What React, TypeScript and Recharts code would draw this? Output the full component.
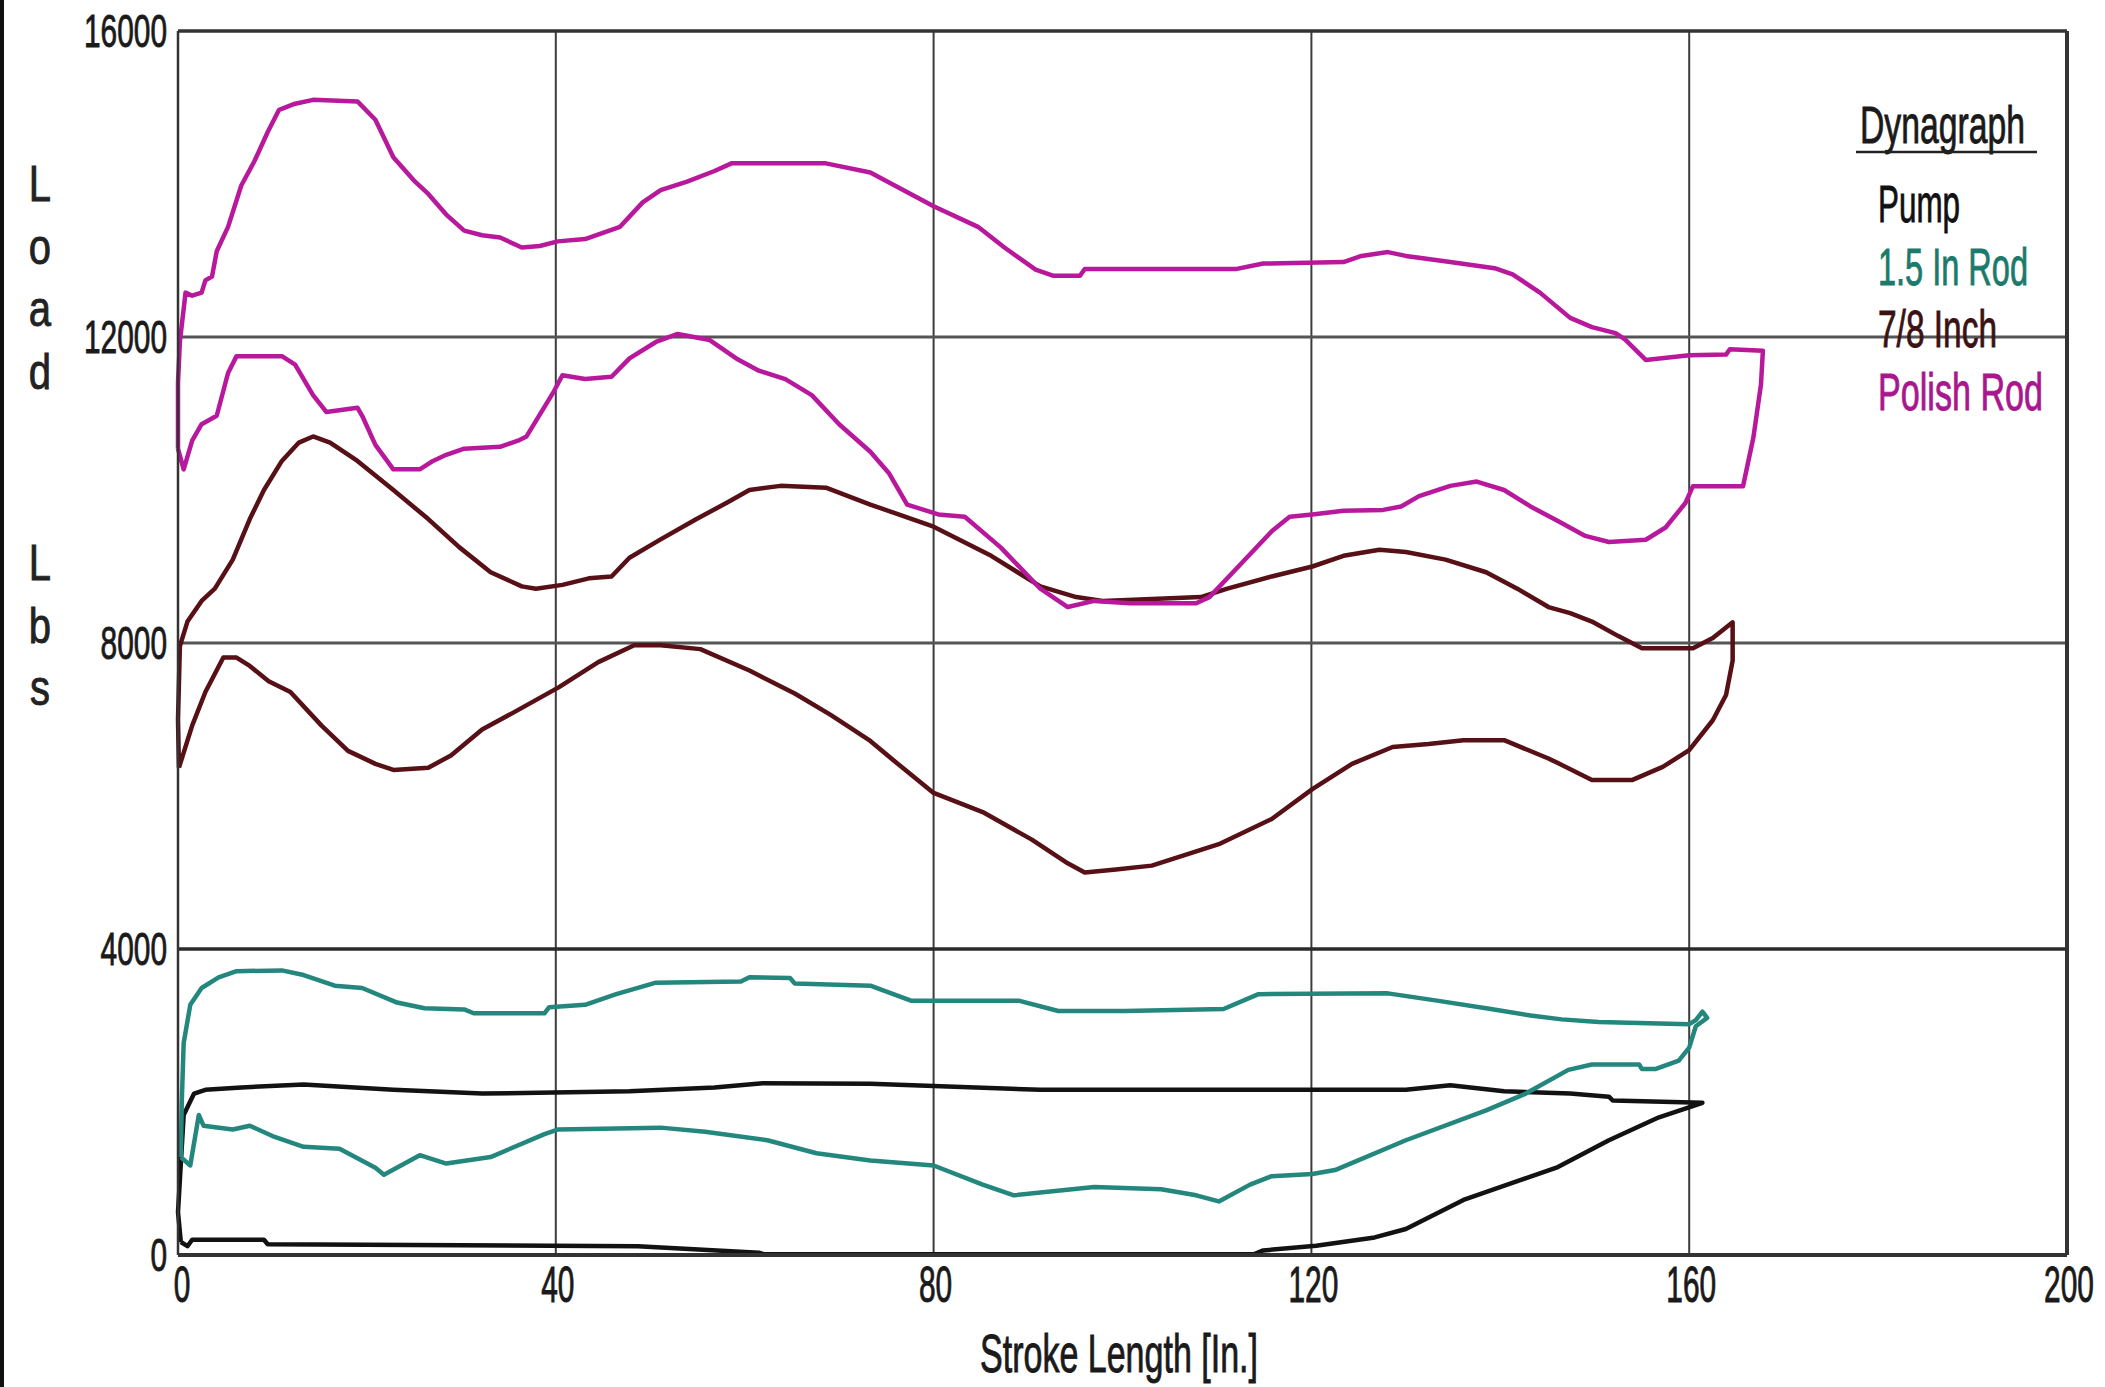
import React from 'react';
import { LineChart, Line, XAxis, YAxis, CartesianGrid, ReferenceLine, Legend } from 'recharts';

// ---------- axis ticks ----------
const strokeTicks = [0, 40, 80, 120, 160, 200];
const loadTicks = [0, 4000, 8000, 12000, 16000];
const xTitle = 'Stroke Length [In.]';
const yTitle = 'Load Lbs';
const legendTitle = 'Dynagraph';

// ---------- Pump (black) ----------
const pumpStroke = [0.3, 0, 0.6, 1.7, 2.9, 6.7, 13.3, 22.8, 32.2, 47.8, 56.8, 61.9, 73.3, 91.3, 130, 134.7, 140.4, 147.4, 151.5, 151.9, 161.4,
  156.8, 151.5, 146.1, 136.1, 130, 126.7, 120.5, 114.9, 113.9, 62, 61.5, 48.7, 9.5, 9.1, 1.5, 1, 0.3];
const pumpLoad = [170, 560, 1830, 2110, 2160, 2190, 2230, 2160, 2110, 2140, 2190, 2245, 2240, 2160, 2160, 2220, 2140, 2110, 2070, 2020, 1990,
  1800, 1500, 1150, 720, 340, 230, 120, 60, 10, 10, 30, 115, 140, 200, 200, 115, 170];

// ---------- 1.5 In Rod (teal) ----------
const rod15Stroke = [0.3, 0.4, 0.6, 1.3, 2.5, 4.3, 6.2, 11, 13.3, 16.6, 19.5, 23.2, 26.1, 30.3, 31.3, 38.8, 39.3, 43.1, 46.4, 50.6, 59.6, 60.5, 64.8, 65.3, 73.3, 77.6, 89, 93.2, 100.3, 110.7, 114.4, 128.1, 133.3, 139, 143.2, 146.5, 150.4, 160, 160.7, 161.4, 161.9,
  160.7, 160, 158.9, 156.4, 155, 154.7, 149.7, 147.2, 142.7, 138.5, 130, 122.5, 120.1, 115.8, 113.5, 110.2, 107.8, 104.1, 97, 88.5, 85.2, 80, 73.3, 67.6, 62.4, 55.8, 51.1, 40.2, 38.8, 33.1, 28.4, 25.6, 21.8, 20.9, 17.1, 13.3, 10, 7.6, 5.8, 2.7, 2.2, 1.3, 0.3];
const rod15Load = [1280, 2000, 2770, 3270, 3490, 3630, 3710, 3720, 3660, 3520, 3490, 3300, 3225, 3210, 3160, 3160, 3240, 3270, 3410, 3560, 3575, 3630, 3620, 3550, 3520, 3325, 3325, 3190, 3190, 3215, 3410, 3420, 3325, 3215, 3130, 3080, 3045, 3017, 3070, 3180, 3100,
  2990, 2710, 2540, 2430, 2430, 2490, 2490, 2420, 2110, 1890, 1500, 1110, 1060, 1030, 920, 700, 780, 860, 890, 780, 920, 1170, 1235, 1330, 1500, 1610, 1665, 1640, 1580, 1280, 1195, 1305, 1050, 1140, 1390, 1415, 1555, 1690, 1640, 1690, 1830, 1170, 1280];

// ---------- 7/8 Inch (dark maroon) ----------
const rod78Stroke = [0.1, 0, 0.2, 1, 2.5, 3.9, 5.8, 7.6, 9.1, 11, 12.8, 14.3, 16.1, 19, 22.8, 26.5, 29.8, 33.1, 36.4, 37.9, 40.7, 43.5, 45.9, 47.8, 51.1, 54.9, 58.2, 60.5, 63.8, 68.6, 73.3, 80, 86.1, 91.3, 95.1, 97.9, 108.3, 111.1, 115.8, 120.1, 123.4, 127.2, 130, 134.2, 138.5, 141.8, 145.1, 147.4, 149.7, 152.5, 155, 160.4, 162.5, 164.6,
  164.6, 163.9, 162.5, 160, 157.2, 154, 149.7, 146.1, 145.1, 140.4, 136.1, 132.4, 128.6, 124.3, 120.1, 115.8, 110.2, 103.1, 99.3, 96, 94.2, 90.4, 85.2, 80, 76.2, 73.3, 69.1, 65.3, 60.5, 55.3, 51.1, 48.3, 44.5, 40.3, 35.5, 32.2, 28.9, 26.5, 22.8, 20.9, 18, 15.2, 11.9, 9.6, 7.6, 6.2, 4.8, 2.9, 1.5, 0.1];
const rod78Load = [6370, 7000, 7960, 8280, 8550, 8710, 9090, 9620, 10000, 10380, 10620, 10700, 10620, 10380, 10000, 9620, 9250, 8925, 8740, 8710, 8760, 8845, 8870, 9115, 9355, 9620, 9840, 10000, 10054, 10030, 9810, 9520, 9140, 8740, 8600, 8550, 8600, 8710, 8870, 9000, 9140, 9220, 9190, 9090, 8925, 8710, 8470, 8390, 8280, 8090, 7930, 7930, 8064, 8270,
  7770, 7320, 6990, 6600, 6380, 6210, 6210, 6430, 6490, 6730, 6730, 6680, 6640, 6420, 6090, 5700, 5370, 5090, 5040, 5000, 5120, 5430, 5790, 6040, 6420, 6720, 7060, 7340, 7640, 7920, 7970, 7970, 7750, 7420, 7090, 6870, 6530, 6370, 6340, 6420, 6590, 6920, 7360, 7500, 7700, 7810, 7810, 7360, 6920, 6370];

// ---------- Polish Rod (magenta) ----------
const polishStroke = [0, 0, 0.2, 0.8, 1.5, 2.5, 2.9, 3.6, 4.1, 5.3, 6.7, 8.1, 9.5, 10.7, 12.4, 14.3, 19, 20.9, 22.8, 25.1, 26.5, 28.4, 30.3, 32.2, 34.1, 36.4, 38.3, 40.2, 43.1, 46.8, 49.2, 51.1, 53.9, 56.8, 58.6, 68.6, 73.3, 80, 84.7, 87.5, 90.8, 92.7, 95.5, 96, 112.1, 114.9, 123.4, 125.3, 128.1, 130, 134.7, 139.4, 141.3, 144.2, 147.4, 149.7, 152.2, 153.2, 155.4, 160, 163.9, 164.3, 167.8,
  167.6, 166.8, 165.7, 160.4, 159.6, 157.5, 155.4, 151.5, 149, 146, 143.2, 140.4, 137.5, 134.7, 131.4, 129.5, 127.6, 123.4, 120.1, 117.7, 115.8, 112.5, 109.2, 107.8, 100.8, 97, 94.2, 91.3, 87.1, 83.3, 80.5, 77.2, 75.3, 73.3, 70, 67.1, 64.3, 61.5, 59.1, 56.3, 52.9, 50.6, 47.8, 45.9, 43.1, 40.7, 39.8, 36.9, 36, 34.1, 30.3, 28.4, 27, 25.6, 22.8, 20.9, 19.5, 19, 15.7, 14.3, 12.4, 11, 6.2, 5.3, 4.1, 2.5, 1.5, 0.6, 0];
const polishLoad = [10540, 11400, 11940, 12580, 12540, 12580, 12740, 12790, 13120, 13440, 13980, 14300, 14680, 14970, 15050, 15100, 15080, 14840, 14350, 14030, 13870, 13600, 13390, 13330, 13300, 13170, 13190, 13250, 13280, 13440, 13760, 13920, 14030, 14170, 14270, 14270, 14150, 13710, 13440, 13170, 12880, 12800, 12800, 12890, 12890, 12960, 12980, 13060, 13110, 13060, 12980, 12900, 12820, 12580, 12250, 12130, 12050, 11970, 11700, 11760, 11770, 11840, 11820,
  11380, 10690, 10050, 10050, 9830, 9510, 9350, 9320, 9400, 9600, 9785, 10000, 10110, 10054, 9920, 9785, 9740, 9730, 9680, 9650, 9460, 9030, 8600, 8520, 8520, 8550, 8470, 8710, 9250, 9650, 9680, 9810, 10215, 10500, 10860, 11240, 11450, 11560, 11720, 11960, 12040, 11935, 11720, 11480, 11450, 11500, 11290, 10700, 10645, 10565, 10540, 10460, 10380, 10270, 10270, 10590, 10970, 11075, 11020, 11240, 11640, 11750, 11750, 11530, 10970, 10860, 10645, 10270, 10540];

const toPoints = (xs: number[], ys: number[]) => xs.map((x, i) => ({ stroke: x, load: ys[i] }));

const series = [
  { name: 'Pump', color: '#121212', text: '#111111', data: toPoints(pumpStroke, pumpLoad) },
  { name: '1.5 In Rod', color: '#23877D', text: '#1C7A6C', data: toPoints(rod15Stroke, rod15Load) },
  { name: '7/8 Inch', color: '#561016', text: '#3A1214', data: toPoints(rod78Stroke, rod78Load) },
  { name: 'Polish Rod', color: '#B8189C', text: '#A8178E', data: toPoints(polishStroke, polishLoad) },
];

const FONT = "'Liberation Sans Narrow', 'Arial Narrow', 'Liberation Sans', Arial, sans-serif";
const DIGIT_W = 16.6;

type TTProps = { x: number; y: number; text: string; size: number; sy: number; width?: number; anchor?: 'start' | 'middle' | 'end'; fill?: string; bold?: number };
const TallText = ({ x, y, text, size, sy, width, anchor = 'start', fill = '#111', bold = 0.7 }: TTProps) => (
  <g transform={`translate(${x},${y}) scale(1,${sy})`}>
    <text
      x={0}
      y={0}
      fontSize={size}
      fontFamily={FONT}
      textAnchor={anchor}
      fill={fill}
      stroke={fill}
      strokeWidth={bold}
      {...(width ? { textLength: width, lengthAdjust: 'spacingAndGlyphs' } : {})}
    >
      {text}
    </text>
  </g>
);

const YTick = (props: any) => {
  const { y, payload } = props;
  const s = String(payload.value);
  return <TallText x={167} y={y + 16} text={s} size={36} sy={1.27} width={DIGIT_W * s.length} anchor="end" fill="#1a1a1a" />;
};

const XTick = (props: any) => {
  const { x, payload } = props;
  const s = String(payload.value);
  const dx = payload.value === 0 ? 4 : 2;
  return <TallText x={x + dx} y={1302} text={s} size={36} sy={1.4} width={DIGIT_W * s.length} anchor="middle" fill="#1a1a1a" />;
};

const XTitle = () => <TallText x={1119} y={1372} text={xTitle} size={41} sy={1.3} width={278} anchor="middle" fill="#1a1a1a" />;

const YTitle = () => {
  const words = yTitle.split(' ');
  const starts = [201, 580];
  const step = 62.5;
  return (
    <g>
      {words.map((w, wi) =>
        w.split('').map((ch, ci) => (
          <TallText key={`${wi}-${ci}`} x={40} y={starts[wi] + ci * step} text={ch} size={40} sy={1.25} anchor="middle" fill="#222" />
        ))
      )}
    </g>
  );
};

const LegendContent = (props: any) => {
  const payload: any[] = props.payload || [];
  const ordered = series.map((s) => {
    const p = payload.find((q) => q.value === s.name);
    return { name: s.name, color: s.text, present: !!p };
  });
  const widths: Record<string, number> = { 'Pump': 82, '1.5 In Rod': 150, '7/8 Inch': 119, 'Polish Rod': 165 };
  return (
    <svg width={240} height={340} style={{ display: 'block', overflow: 'visible' }}>
      <TallText x={10} y={53} text={legendTitle} size={41} sy={1.25} width={165} fill="#1a1a1a" />
      <line x1={6} x2={187} y1={62} y2={62} stroke="#222" strokeWidth={2.5} />
      {ordered.map((o, i) => (
        <TallText key={o.name} x={28} y={132 + 62.7 * i} text={o.name} size={41} sy={1.25} width={widths[o.name]} fill={o.color} />
      ))}
    </svg>
  );
};

export default function App() {
  return (
    <div style={{ position: 'absolute', left: 0, top: 0, width: 2105, height: 1387, background: '#fff' }}>
      <div style={{ position: 'absolute', left: 0, top: 0, width: 4, height: 1387, background: '#111' }} />
      <LineChart width={2105} height={1387} margin={{ top: 31, right: 38, bottom: 0, left: 0 }}>
        <CartesianGrid stroke="#3c3c3c" strokeWidth={2} />
        <XAxis
          type="number"
          dataKey="stroke"
          domain={[0, 200]}
          ticks={strokeTicks}
          interval={0}
          height={132}
          tickLine={false}
          axisLine={{ stroke: '#333', strokeWidth: 4 }}
          tick={<XTick />}
          label={{ content: <XTitle /> }}
          allowDuplicatedCategory={false}
        />
        <YAxis
          type="number"
          dataKey="load"
          domain={[0, 16000]}
          ticks={loadTicks}
          interval={0}
          width={178}
          tickLine={false}
          axisLine={{ stroke: '#333', strokeWidth: 2.5 }}
          tick={<YTick />}
          label={{ content: <YTitle /> }}
        />
        <ReferenceLine y={4000} stroke="#2a2a2a" strokeWidth={3.5} />
        <ReferenceLine y={8000} stroke="#555" strokeWidth={3} />
        <ReferenceLine y={12000} stroke="#555" strokeWidth={3} />
        <ReferenceLine y={16000} stroke="#333" strokeWidth={3.5} />
        <ReferenceLine x={200} stroke="#333" strokeWidth={4} />
        {series.map((s) => (
          <Line
            key={s.name}
            name={s.name}
            data={s.data}
            dataKey="load"
            type="linear"
            stroke={s.color}
            strokeWidth={4.5}
            strokeLinejoin="round"
            dot={false}
            activeDot={false}
            isAnimationActive={false}
            legendType="none"
          />
        ))}
        <Legend
          layout="vertical"
          align="center"
          verticalAlign="middle"
          content={<LegendContent />}
          wrapperStyle={{ left: 1850, top: 90, width: 240, height: 340 }}
        />
      </LineChart>
    </div>
  );
}
